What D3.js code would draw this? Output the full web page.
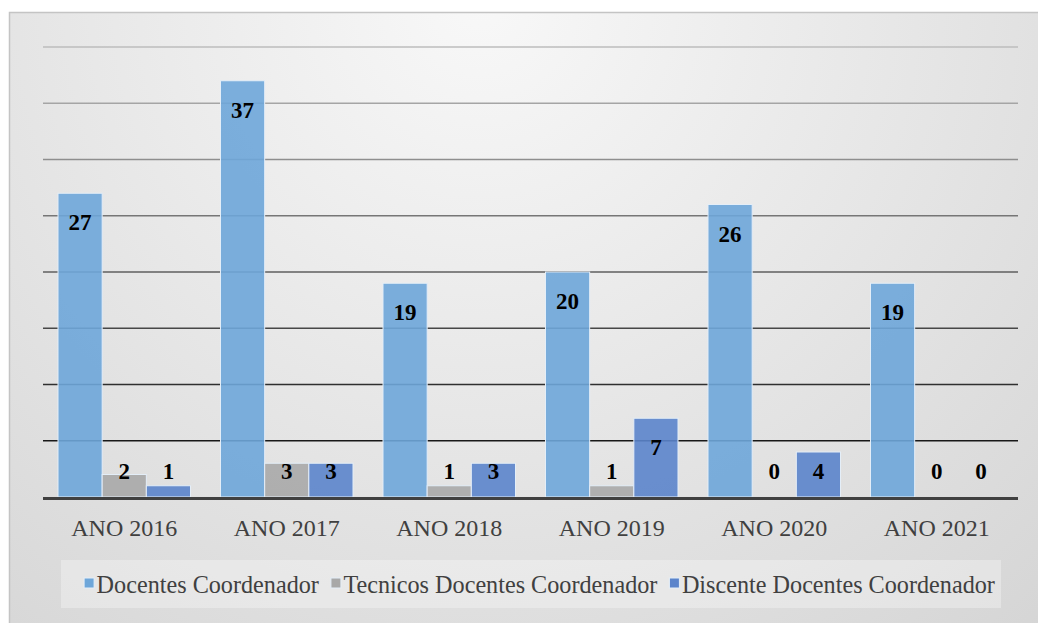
<html>
	<head>
		<meta charset="utf-8">
		<script src="https://d3js.org/d3.v7.min.js"></script>
	</head>
	<body style="margin:0">
		<script type="text/javascript">

			//Data
			var categories = ["ANO 2016", "ANO 2017", "ANO 2018", "ANO 2019", "ANO 2020", "ANO 2021"];
			var seriesNames = ["Docentes Coordenador", "Tecnicos Docentes Coordenador", "Discente Docentes Coordenador"];
			var docentes = [27, 37, 19, 20, 26, 19];
			var tecnicos = [2, 3, 1, 1, 0, 0];
			var discente = [1, 3, 3, 7, 4, 0];
			var yTicks = [0, 5, 10, 15, 20, 25, 30, 35, 40];

			var colors = ["#6ea6d9", "#a8a8a8", "#5b84cb"];
			var font = "Liberation Serif";

			//Width and height
			var w = 1038;
			var h = 623;

			var rows = categories.map(function(c, i) {
				return { cat: c, values: [docentes[i], tecnicos[i], discente[i]] };
			});

			//Scales
			var xScale = d3.scaleBand()
					.domain(categories)
					.range([43, 1018]);

			var x1 = d3.scaleBand()
					.domain(d3.range(seriesNames.length))
					.range([15, xScale.bandwidth() - 15]);

			var yScale = d3.scaleLinear()
					.domain([0, 40])
					.range([497, 47]);

			//Create SVG element
			var svg = d3.select("body")
						.append("svg")
						.attr("width", w)
						.attr("height", h)
						.attr("font-family", font);

			var defs = svg.append("defs");
			var grad = defs.append("radialGradient")
				.attr("id", "bg")
				.attr("gradientUnits", "userSpaceOnUse")
				.attr("cx", 480).attr("cy", 0).attr("r", 900);
			grad.append("stop").attr("offset", 0).attr("stop-color", "#f8f8f8");
			grad.append("stop").attr("offset", 1).attr("stop-color", "#d3d3d3");

			//Chart background
			svg.append("rect")
				.attr("x", 9.5)
				.attr("y", 12.5)
				.attr("width", w)
				.attr("height", h)
				.attr("fill", "url(#bg)")
				.attr("stroke", "#c4c4c4")
				.attr("stroke-width", 1.5);

			//Gridlines, lighter at the top, darker toward the axis
			var gridColor = d3.scaleLinear()
					.domain([40, 0])
					.range(["#bdbdbd", "#000000"]);

			svg.append("g")
				.selectAll("line")
				.data(yTicks.filter(function(d) { return d > 0; }))
				.enter()
				.append("line")
				.attr("x1", 43)
				.attr("x2", 1018)
				.attr("y1", function(d) { return yScale(d); })
				.attr("y2", function(d) { return yScale(d); })
				.attr("stroke", function(d) { return gridColor(d); })
				.attr("stroke-width", 1.6);

			//Bars
			var groups = svg.append("g")
				.selectAll("g")
				.data(rows)
				.enter()
				.append("g")
				.attr("transform", function(d) { return "translate(" + xScale(d.cat) + ",0)"; });

			groups.selectAll("rect")
				.data(function(d) { return d.values; })
				.enter()
				.append("rect")
				.attr("x", function(d, i) { return x1(i); })
				.attr("width", x1.bandwidth())
				.attr("y", function(d) { return yScale(d); })
				.attr("height", function(d) { return yScale(0) - yScale(d); })
				.attr("display", function(d) { return d > 0 ? null : "none"; })
				.attr("fill", function(d, i) { return colors[i]; })
				.attr("fill-opacity", 0.9)
				.attr("stroke", "#e4eef8")
				.attr("stroke-width", 1);

			//Value labels
			groups.selectAll("text")
				.data(function(d) { return d.values; })
				.enter()
				.append("text")
				.attr("x", function(d, i) { return x1(i) + x1.bandwidth() / 2; })
				.attr("y", function(d) { return Math.min(yScale(d) + 37, 479); })
				.attr("text-anchor", "middle")
				.attr("font-size", "23px")
				.attr("font-weight", "bold")
				.attr("fill", "black")
				.text(function(d) { return d; });

			//X axis line
			svg.append("line")
				.attr("x1", 43)
				.attr("x2", 1018)
				.attr("y1", 498.5)
				.attr("y2", 498.5)
				.attr("stroke", "#404040")
				.attr("stroke-width", 3);

			//Category labels
			svg.append("g")
				.selectAll("text")
				.data(categories)
				.enter()
				.append("text")
				.attr("x", function(d) { return xScale(d) + xScale.bandwidth() / 2; })
				.attr("y", 536)
				.attr("text-anchor", "middle")
				.attr("font-size", "24px")
				.attr("fill", "#404040")
				.text(function(d) { return d; });

			//Legend
			svg.append("rect")
				.attr("x", 61)
				.attr("y", 560)
				.attr("width", 940)
				.attr("height", 48)
				.attr("fill", "#ffffff")
				.attr("fill-opacity", 0.3);

			var legend = svg.append("g");
			var lx = 0;
			seriesNames.forEach(function(name, i) {
				var item = legend.append("g").attr("transform", "translate(" + lx + ",0)");
				item.append("rect")
					.attr("x", 0)
					.attr("y", 578)
					.attr("width", 10)
					.attr("height", 10)
					.attr("fill", colors[i])
					.attr("stroke", "#e4eef8")
					.attr("stroke-width", 1);
				var t = item.append("text")
					.attr("x", 12.5)
					.attr("y", 593)
					.attr("font-size", "24.2px")
					.attr("fill", "#404040")
					.text(name);
				lx += 12.5 + t.node().getComputedTextLength() + 12;
			});
			var legendWidth = lx - 12;
			legend.attr("transform", "translate(" + (539.5 - legendWidth / 2) + ",0)");

		</script>
	</body>
</html>
